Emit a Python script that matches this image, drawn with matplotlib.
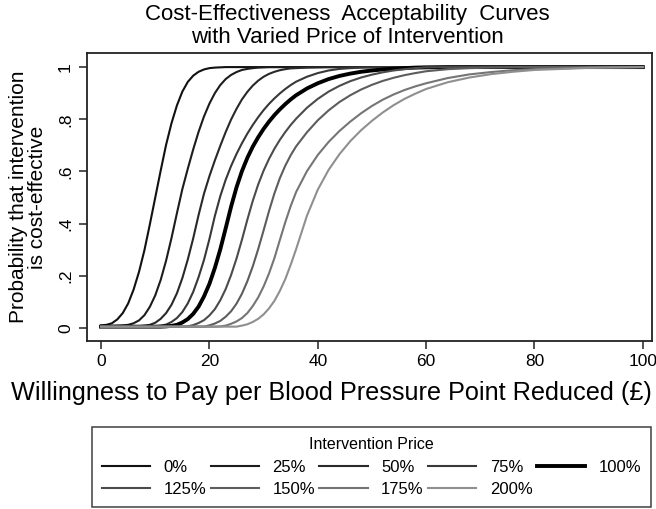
import matplotlib
matplotlib.use("Agg")
import matplotlib.pyplot as plt

plt.rcParams["font.family"] = ["Liberation Sans", "DejaVu Sans"]

# willingness to pay (GBP per blood pressure point reduced)
wtp = [0, 1, 2, 3, 4, 5, 6, 7, 8, 9, 10, 11, 12, 13, 14, 15, 16, 17, 18, 19,
       20, 21, 22, 23, 24, 25, 26, 27, 28, 29, 30, 31, 32, 33, 34, 35, 36,
       38, 40, 42, 44, 46, 48, 50, 52, 54, 56, 58, 60,
       64, 68, 72, 76, 80, 90, 100]

# probability that the intervention is cost-effective
p_0 = [0.010, 0.012, 0.018, 0.033, 0.057, 0.094, 0.147, 0.215, 0.298, 0.397,
       0.500, 0.603, 0.702, 0.785, 0.853, 0.906, 0.943, 0.967, 0.982, 0.991,
       0.996, 0.998, 0.999, 1.0, 1.0, 1.0, 1.0, 1.0, 1.0, 1.0,
       1.0, 1.0, 1.0, 1.0, 1.0, 1.0, 1.0,
       1.0, 1.0, 1.0, 1.0, 1.0, 1.0, 1.0, 1.0, 1.0, 1.0, 1.0, 1.0,
       1.0, 1.0, 1.0, 1.0, 1.0, 1.0, 1.0]
p_25 = [0.008, 0.008, 0.008, 0.009, 0.010, 0.012, 0.018, 0.029, 0.049, 0.081,
        0.125, 0.184, 0.258, 0.345, 0.440, 0.532, 0.610, 0.684, 0.752, 0.811,
        0.860, 0.900, 0.931, 0.954, 0.970, 0.981, 0.989, 0.993, 0.996, 0.998,
        0.999, 1.0, 1.0, 1.0, 1.0, 1.0, 1.0,
        1.0, 1.0, 1.0, 1.0, 1.0, 1.0, 1.0, 1.0, 1.0, 1.0, 1.0, 1.0,
        1.0, 1.0, 1.0, 1.0, 1.0, 1.0, 1.0]
p_50 = [0.006, 0.006, 0.006, 0.006, 0.006, 0.006, 0.006, 0.007, 0.009, 0.012,
        0.020, 0.035, 0.057, 0.089, 0.133, 0.191, 0.262, 0.343, 0.433, 0.515,
        0.582, 0.642, 0.698, 0.751, 0.799, 0.840, 0.876, 0.905, 0.929, 0.948,
        0.963, 0.974, 0.982, 0.988, 0.992, 0.995, 0.996,
        0.998, 0.999, 1.0, 1.0, 1.0, 1.0, 1.0, 1.0, 1.0, 1.0, 1.0, 1.0,
        1.0, 1.0, 1.0, 1.0, 1.0, 1.0, 1.0]
p_75 = [0.005, 0.005, 0.005, 0.005, 0.005, 0.005, 0.005, 0.005, 0.005, 0.006,
        0.007, 0.009, 0.013, 0.023, 0.038, 0.061, 0.094, 0.138, 0.195, 0.261,
        0.341, 0.429, 0.505, 0.568, 0.621, 0.667, 0.708, 0.745, 0.778, 0.808,
        0.835, 0.859, 0.880, 0.899, 0.916, 0.931, 0.944,
        0.963, 0.977, 0.987, 0.993, 0.996, 0.998, 0.999, 1.0, 1.0, 1.0, 1.0, 1.0,
        1.0, 1.0, 1.0, 1.0, 1.0, 1.0, 1.0]
p_100 = [0.005, 0.005, 0.005, 0.005, 0.005, 0.005, 0.005, 0.005, 0.005, 0.005,
         0.005, 0.005, 0.006, 0.008, 0.012, 0.021, 0.034, 0.054, 0.082, 0.121,
         0.169, 0.230, 0.301, 0.382, 0.465, 0.539, 0.601, 0.652, 0.695, 0.731,
         0.763, 0.791, 0.816, 0.838, 0.858, 0.876, 0.892,
         0.918, 0.938, 0.954, 0.966, 0.975, 0.982, 0.987, 0.991, 0.994, 0.996, 0.998, 0.999,
         1.0, 1.0, 1.0, 1.0, 1.0, 1.0, 1.0]
p_125 = [0.005, 0.005, 0.005, 0.005, 0.005, 0.005, 0.005, 0.005, 0.005, 0.005,
         0.005, 0.005, 0.005, 0.005, 0.005, 0.005, 0.006, 0.011, 0.019, 0.030,
         0.048, 0.072, 0.106, 0.149, 0.203, 0.266, 0.338, 0.415, 0.487, 0.550,
         0.603, 0.648, 0.687, 0.721, 0.751, 0.778, 0.802,
         0.844, 0.878, 0.906, 0.928, 0.946, 0.960, 0.971, 0.980, 0.987, 0.992, 0.996, 0.999,
         1.0, 1.0, 1.0, 1.0, 1.0, 1.0, 1.0]
p_150 = [0.005, 0.005, 0.005, 0.005, 0.005, 0.005, 0.005, 0.005, 0.005, 0.005,
         0.005, 0.005, 0.005, 0.005, 0.005, 0.005, 0.005, 0.005, 0.005, 0.005,
         0.010, 0.017, 0.027, 0.043, 0.064, 0.093, 0.131, 0.179, 0.236, 0.302,
         0.374, 0.448, 0.516, 0.574, 0.622, 0.662, 0.696,
         0.750, 0.796, 0.834, 0.866, 0.892, 0.914, 0.932, 0.947, 0.959, 0.969, 0.977, 0.984,
         0.992, 0.996, 0.998, 0.999, 1.0, 1.0, 1.0]
p_175 = [0.005, 0.005, 0.005, 0.005, 0.005, 0.005, 0.005, 0.005, 0.005, 0.005,
         0.005, 0.005, 0.005, 0.005, 0.005, 0.005, 0.005, 0.005, 0.005, 0.005,
         0.005, 0.005, 0.006, 0.009, 0.016, 0.025, 0.038, 0.057, 0.084, 0.117,
         0.159, 0.209, 0.268, 0.337, 0.405, 0.467, 0.521,
         0.601, 0.663, 0.713, 0.755, 0.791, 0.823, 0.851, 0.875, 0.895, 0.912, 0.926, 0.938,
         0.958, 0.972, 0.981, 0.988, 0.992, 0.998, 1.0]
p_200 = [0.005, 0.005, 0.005, 0.005, 0.005, 0.005, 0.005, 0.005, 0.005, 0.005,
         0.005, 0.005, 0.005, 0.005, 0.005, 0.005, 0.005, 0.005, 0.005, 0.005,
         0.005, 0.005, 0.005, 0.005, 0.005, 0.005, 0.009, 0.014, 0.023, 0.035,
         0.052, 0.075, 0.104, 0.142, 0.187, 0.242, 0.302,
         0.430, 0.530, 0.606, 0.666, 0.716, 0.758, 0.794, 0.826, 0.854, 0.878, 0.898, 0.916,
         0.942, 0.960, 0.973, 0.982, 0.989, 0.997, 1.0]

price_labels = ["0%", "25%", "50%", "75%", "100%", "125%", "150%", "175%", "200%"]
curves = [p_0, p_25, p_50, p_75, p_100, p_125, p_150, p_175, p_200]
line_colors = ["#111111", "#1c1c1c", "#292929", "#383838", "#000000",
               "#4b4b4b", "#5d5d5d", "#757575", "#8f8f8f"]
line_widths = [1.5, 1.5, 1.5, 1.5, 2.8, 1.5, 1.5, 1.5, 1.5]

fig = plt.figure(figsize=(6.56, 5.09), dpi=100)
ax = fig.add_axes([87 / 656, 1 - 341 / 509, 565 / 656, 288 / 509])

lines = []
for vals, lab, col, lw in zip(curves, price_labels, line_colors, line_widths):
    ln, = ax.plot(wtp, vals, color=col, lw=lw, label=lab, solid_joinstyle="round")
    lines.append(ln)

ax.set_xlim(-2.6, 101.7)
ax.set_ylim(-0.05, 1.054)
ax.set_xticks([0, 20, 40, 60, 80, 100])
ax.set_yticks([0, 0.2, 0.4, 0.6, 0.8, 1.0])
ax.set_yticklabels(["0", ".2", ".4", ".6", ".8", "1"])
ax.tick_params(direction="out", length=6, width=1.1, labelsize=12.5, color="#222222")
ax.tick_params(axis="y", pad=4)
plt.setp(ax.get_yticklabels(), rotation=90, va="center")
for sp in ax.spines.values():
    sp.set_linewidth(1.3)
    sp.set_color("#222222")

# axis titles and heading placed like the Stata original
fig.text(331 / 656, 1 - 393 / 509, "Willingness to Pay per Blood Pressure Point Reduced (\u00a3)",
         fontsize=18.2, ha="center", va="center")
ax.set_ylabel("Probability that intervention\nis cost-effective", fontsize=15, labelpad=8,
              linespacing=1.0)
fig.text(347 / 656, 1 - 26 / 509,
         "Cost-Effectiveness  Acceptability  Curves\nwith Varied Price of Intervention",
         fontsize=16, ha="center", va="center", linespacing=1.17)

# legend laid out row by row like the original (matplotlib fills by column)
order = [0, 5, 1, 6, 2, 7, 3, 8, 4]
leg = fig.legend([lines[i] for i in order], [price_labels[i] for i in order],
                 ncol=5, loc="upper left", mode="expand",
                 bbox_to_anchor=(92 / 656, 0.0, 559 / 656, 1 - 427 / 509),
                 title="Intervention Price", title_fontsize=11.5, fontsize=12,
                 frameon=True, fancybox=False, edgecolor="#111111",
                 handlelength=2.9, handletextpad=0.8,
                 labelspacing=0.45, borderpad=0.6, borderaxespad=0.0)
leg.get_frame().set_linewidth(1.1)

fig.savefig("out.png", dpi=100)
